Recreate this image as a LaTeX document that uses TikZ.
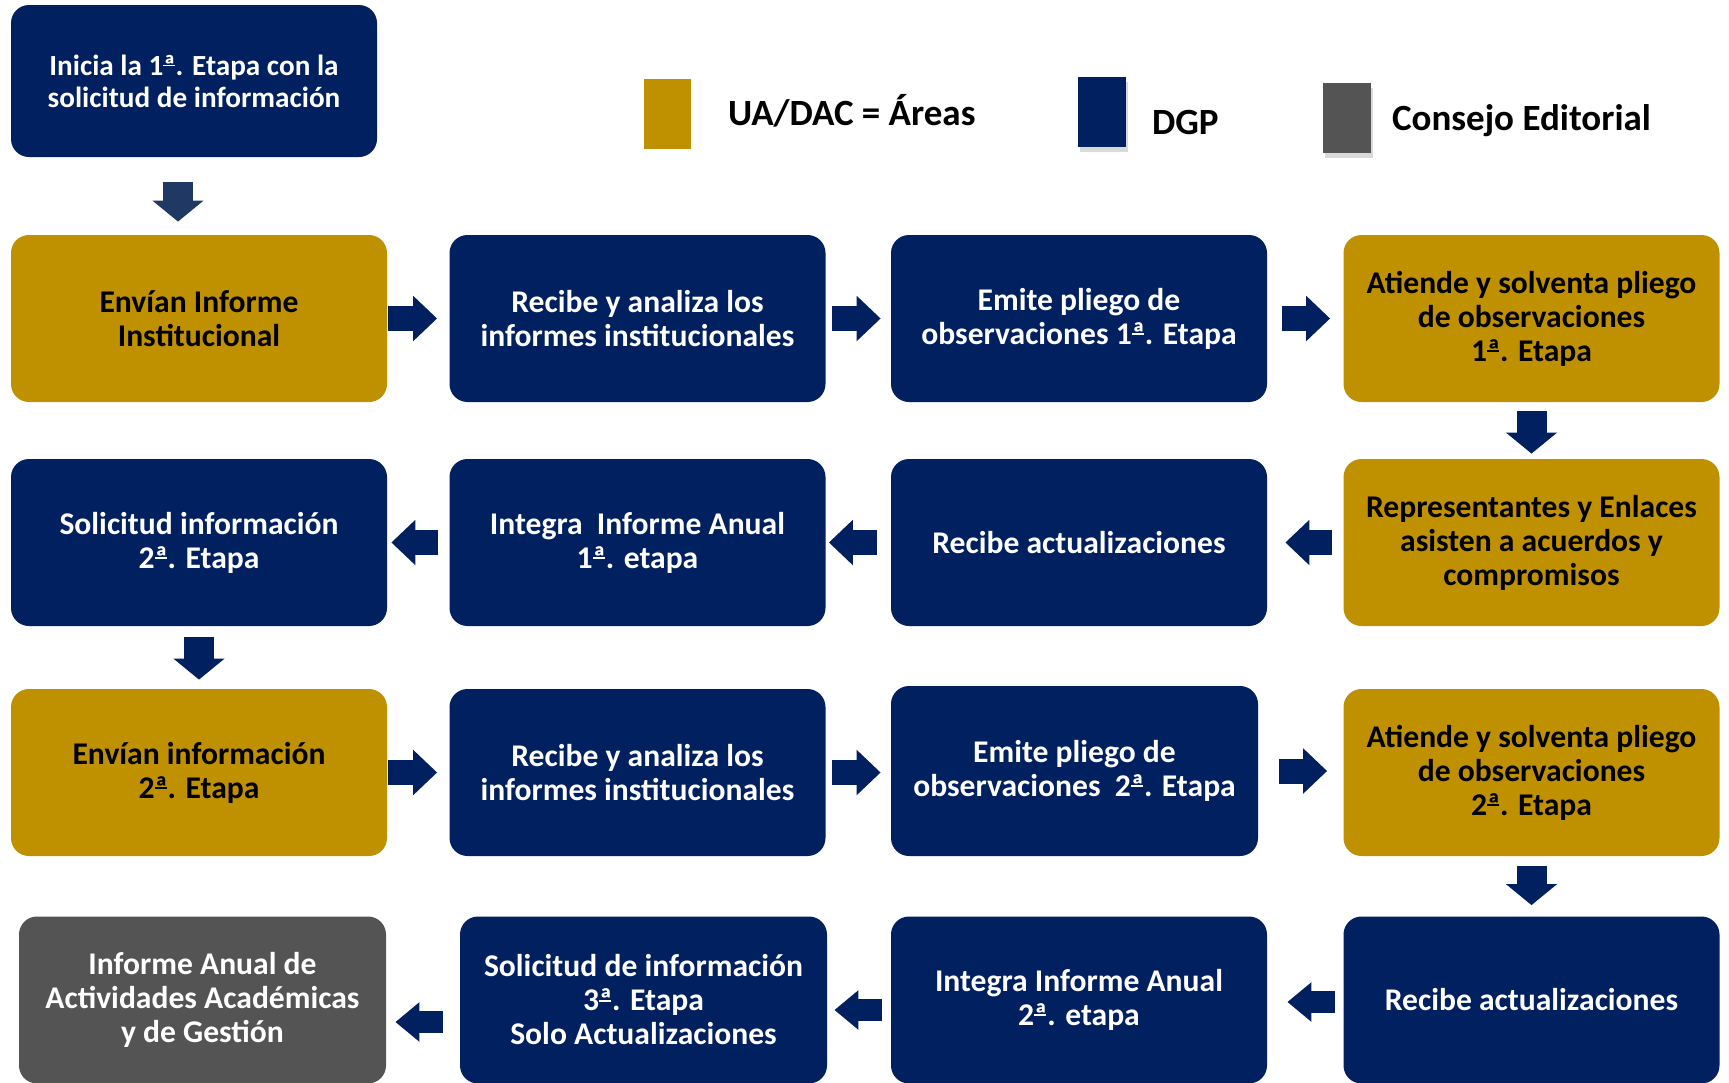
\documentclass[tikz,border=0pt]{standalone}
\usepackage{fontspec}
\setmainfont{Carlito}
\usetikzlibrary{arrows.meta,shadows}
\definecolor{dgp}{HTML}{002060}
\definecolor{areas}{HTML}{BF9000}
\definecolor{consejo}{HTML}{545454}
\definecolor{flechauno}{HTML}{203864}
% ordinal con subrayado, como en la fuente original
\newcommand{\aord}{\leavevmode\rlap{\rule[0.3em]{0.38em}{0.06em}}ª}

\begin{document}
\begin{tikzpicture}[x=0.5pt, y=-0.5pt, font=\bfseries\fontsize{15.8}{17}\selectfont,
    caja/.style={rounded corners=9pt, minimum width=188pt, minimum height=83.5pt, align=center, inner sep=0pt},
    cajadgp/.style={caja, fill=dgp, text=white},
    cajaarea/.style={caja, fill=areas, text=black},
    cajace/.style={caja, fill=consejo, text=white},
    flecha/.style={draw=dgp, line width=12.5pt, -{Triangle[length=12pt, width=22pt]}},
    flechab/.style={draw=dgp, line width=15pt, -{Triangle[length=10.5pt, width=25pt]}},
    flechac/.style={draw=dgp, line width=11pt, -{Triangle[length=12pt, width=19pt]}},
    leyenda/.style={anchor=west, text=black, font=\bfseries\fontsize{18.5}{22}\selectfont}]
    \useasboundingbox (0,0) rectangle (1729,1082);
    \clip (0,0) rectangle (1729,1082);

    % leyenda
    \fill[areas] (644,79) rectangle (691,149);
    \node[leyenda] (ley1) at (721,111) {UA/DAC = Áreas};
    \fill[dgp, drop shadow={shadow xshift=1pt, shadow yshift=-2.5pt, opacity=0.3}] (1078,77) rectangle (1126,147);
    \node[leyenda] (ley2) at (1145,122) {DGP};
    \fill[consejo, drop shadow={shadow xshift=1pt, shadow yshift=-2.5pt, opacity=0.3}] (1323,83) rectangle (1371,153);
    \node[leyenda] (ley3) at (1385,121) {Consejo Editorial};

    % etapa 1
    \node[cajadgp, minimum width=183pt, minimum height=76pt, font=\bfseries\fontsize{14.6}{16}\selectfont] (inicia) at (194,81) {Inicia la 1\aord. Etapa con la\\solicitud de información};
    \node[cajaarea] (envia1) at (199,318.5) {Envían Informe\\Institucional};
    \node[cajadgp] (recibe1) at (637.5,318.5) {Recibe y analiza los\\informes institucionales};
    \node[cajadgp] (emite1) at (1079,318.5) {Emite pliego de\\observaciones 1\aord. Etapa};
    \node[cajaarea] (atiende1) at (1531.5,318.5) {Atiende y solventa pliego\\de observaciones\\1\aord. Etapa};

    \node[cajaarea] (repres) at (1531.5,542.5) {Representantes y Enlaces\\asisten a acuerdos y\\compromisos};
    \node[cajadgp] (recact1) at (1079,542.5) {Recibe actualizaciones};
    \node[cajadgp] (integra1) at (637.5,542.5) {Integra\ \ Informe Anual\\1\aord. etapa};
    \node[cajadgp] (solic2) at (199,542.5) {Solicitud información\\2\aord. Etapa};

    % etapa 2
    \node[cajaarea] (envia2) at (199,772.5) {Envían información\\2\aord. Etapa};
    \node[cajadgp] (recibe2) at (637.5,772.5) {Recibe y analiza los\\informes institucionales};
    \node[cajadgp, minimum width=183.5pt, minimum height=85pt] (emite2) at (1074.5,771) {Emite pliego de\\observaciones\ \ 2\aord. Etapa};
    \node[cajaarea] (atiende2) at (1531.5,772.5) {Atiende y solventa pliego\\de observaciones\\2\aord. Etapa};

    \node[cajadgp] (recact2) at (1531.5,1000) {Recibe actualizaciones};
    \node[cajadgp] (integra2) at (1079,1000) {Integra Informe Anual\\2\aord. etapa};
    \node[cajadgp, minimum width=183.5pt] (solic3) at (643.5,1000) {Solicitud de información\\3\aord. Etapa\\Solo Actualizaciones};
    \node[cajace, minimum width=183.5pt] (informe) at (202.5,1000) {Informe Anual de\\Actividades Académicas\\y de Gestión};

    % flechas
    \draw[flechab, draw=flechauno, shorten <=12.5pt, shorten >=6.5pt] ([xshift=-8pt]inicia.south) -- ([xshift=-10.5pt]envia1.north);
    \draw[flecha, shorten <=0.5pt, shorten >=6pt] (envia1.east) -- (recibe1.west);
    \draw[flecha, shorten <=3pt, shorten >=5pt] (recibe1.east) -- (emite1.west);
    \draw[flecha, shorten <=7.5pt, shorten >=6.5pt] (emite1.east) -- (atiende1.west);
    \draw[flechab, shorten <=4.5pt, shorten >=2.5pt] (atiende1.south) -- (repres.north);
    \draw[flecha, shorten <=5.5pt, shorten >=9pt] (repres.west) -- (recact1.east);
    \draw[flecha, shorten <=7pt, shorten >=1.5pt] (recact1.west) -- (integra1.east);
    \draw[flecha, shorten <=5.5pt, shorten >=2pt] (integra1.west) -- (solic2.east);
    \draw[flechab, shorten <=5.5pt, shorten >=4.5pt] (solic2.south) -- (envia2.north);
    \draw[flecha, shorten <=0.5pt, shorten >=6pt] (envia2.east) -- (recibe2.west);
    \draw[flecha, shorten <=3pt, shorten >=5pt] (recibe2.east) -- ([yshift=-0.75pt]emite2.west);
    \draw[flecha, shorten <=10.5pt, shorten >=8pt] (emite2.east) -- ([yshift=0.75pt]atiende2.west);
    \draw[flechab, shorten <=5pt, shorten >=5.5pt] (atiende2.south) -- (recact2.north);
    \draw[flechac, shorten <=4pt, shorten >=10pt] ([yshift=-1pt]recact2.west) -- ([yshift=-1pt]integra2.east);
    \draw[flechac, shorten <=4.5pt, shorten >=3.5pt] ([yshift=-5pt]integra2.west) -- ([yshift=-5pt]solic3.east);
    \draw[flechac, shorten <=8.5pt, shorten >=4.5pt] ([yshift=-11pt]solic3.west) -- ([yshift=-11pt]informe.east);
\end{tikzpicture}
\end{document}
